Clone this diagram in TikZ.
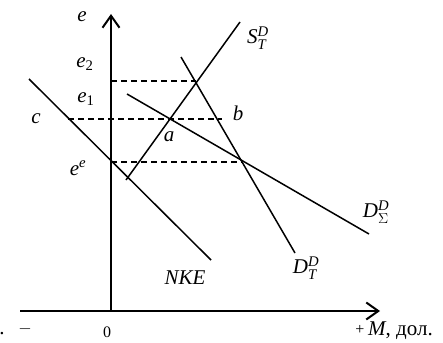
\documentclass[tikz,border=0pt]{standalone}
\usepackage{amsmath}
\usepackage{fontspec}
\setmainfont{Liberation Serif}
\usetikzlibrary{arrows.meta}
\begin{document}
\begin{tikzpicture}[x=1pt,y=-1pt,
  axis/.style={line width=2pt,-{Straight Barb[length=12pt,width=17pt,line width=2pt]}},
  curve/.style={line width=1.5pt},
  guide/.style={line width=1.5pt,dashed,dash pattern=on 6pt off 4pt},
  lab/.style={font=\fontsize{21}{24}\selectfont,inner sep=0pt}]
\useasboundingbox (0,0) rectangle (443,342);
% axes
\coordinate (O) at (111,311);
\coordinate (ytop) at (111,14);
\coordinate (xl) at (20,311);
\coordinate (xr) at (380,311);
\draw[axis] (O) -- (ytop);
\draw[axis] (xl) -- (xr);
% lines
\coordinate (c1) at (29,79);
\coordinate (c2) at (211,260);
\coordinate (s1) at (126,180);
\coordinate (s2) at (240,22);
\coordinate (t1) at (181,57);
\coordinate (t2) at (295,253);
\coordinate (g1) at (127,94);
\coordinate (g2) at (369,234);
\draw[curve] (c1) -- (c2);
\draw[curve] (s1) -- (s2);
\draw[curve] (t1) -- (t2);
\draw[curve] (g1) -- (g2);
% dashed guides
\coordinate (e2a) at (111,81);
\coordinate (e2b) at (196,81);
\coordinate (ca) at (68,119);
\coordinate (cb) at (222,119);
\coordinate (eea) at (111,162);
\coordinate (eeb) at (242,162);
\draw[guide] (e2a) -- (e2b);
\draw[guide] (ca) -- (cb);
\draw[guide] (eea) -- (eeb);
% labels
\node[lab] (le) at (82,17) {\textit{e}};
\node[lab] (le2) at (85,64) {\textit{e}$_{\text{2}}$};
\node[lab] (le1) at (86,99) {\textit{e}$_{\text{1}}$};
\node[lab] (lc) at (36,119) {\textit{c}};
\node[lab] (lee) at (78,168) {\textit{e}$^{\textit{e}}$};
\node[lab] (lS) at (258,38) {\textit{S}$^{\textit{D}}_{\textit{T}}$};
\node[lab] (la) at (169,137) {\textit{a}};
\node[lab] (lb) at (238,113) {\textit{b}};
\node[lab] (lG) at (376,212) {\textit{D}$^{\textit{D}}_{\Sigma}$};
\node[lab] (lT) at (306,268) {\textit{D}$^{\textit{D}}_{\textit{T}}$};
\node[lab] (lN) at (185,278) {\textit{NKE}};
\node[lab,font=\fontsize{16}{18}\selectfont] (lminus) at (25,329) {$-$};
\node[lab,font=\fontsize{16}{18}\selectfont] (l0) at (107,332) {0};
\node[lab,font=\fontsize{16}{18}\selectfont] (lplus) at (360,330) {+};
\node[lab,anchor=west] (lM) at (368,331) {\textit{M}, дол.};
\node[lab] (ldot) at (2,334) {.};
\end{tikzpicture}
\end{document}
